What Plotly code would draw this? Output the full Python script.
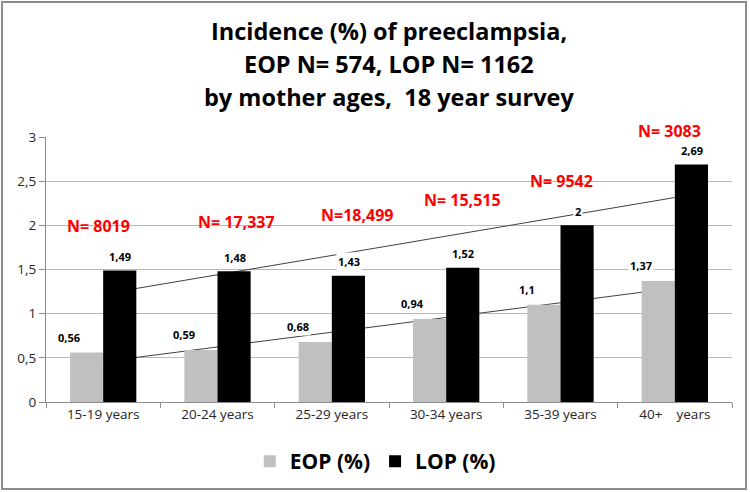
import numpy as np
import plotly.graph_objects as go

categories = ["15-19 years", "20-24 years", "25-29 years", "30-34 years", "35-39 years", "40+\u00a0\u00a0\u00a0\u00a0years"]
eop = [0.56, 0.59, 0.68, 0.94, 1.1, 1.37]
lop = [1.49, 1.48, 1.43, 1.52, 2.0, 2.69]
n_labels = ["N= 8019", "N= 17,337", "N=18,499", "N= 15,515", "N= 9542", "N= 3083"]
n_label_y = [1.99, 2.04, 2.12, 2.29, 2.50, 3.0]
n_label_xshift = [-5, 19, 25, 16, 1, -5]
n_label_yshift = [0, 0, 0, 0, 0, 6]
title_lines = ["Incidence (%) of preeclampsia,", "EOP N= 574, LOP N= 1162", "by mother ages,  18 year survey"]
title_line_y = [1.40, 1.277, 1.152]

idx = np.arange(len(categories))
eop_fit = np.polyval(np.polyfit(idx, eop, 1), idx)
lop_fit = np.polyval(np.polyfit(idx, lop, 1), idx)

FONT = "Open Sans"

def fmt(v):
    return ("%g" % v).replace(".", ",")

fig = go.Figure()
# trend lines on base axes (drawn beneath bars)
for fit in (eop_fit, lop_fit):
    fig.add_trace(go.Scatter(x=categories, y=fit, mode="lines", line=dict(color="#404040", width=1),
                             showlegend=False, hoverinfo="skip", xaxis="x", yaxis="y"))
# bars on overlay axes
fig.add_trace(go.Bar(x=categories, y=eop, name="EOP (%)", marker=dict(color="#c0c0c0", line=dict(width=0)),
                     xaxis="x2", yaxis="y2"))
fig.add_trace(go.Bar(x=categories, y=lop, name="LOP (%)", marker=dict(color="#000000", line=dict(width=0)),
                     xaxis="x2", yaxis="y2"))

# value labels (white boxes, as in the reference)
for cat, v in zip(categories, eop):
    fig.add_annotation(x=cat, y=v, xref="x", yref="y", text="<b>" + fmt(v) + "</b>", showarrow=False,
                       xshift=-34, yshift=15, bgcolor="white", borderpad=1,
                       font=dict(family=FONT, size=11, color="black"))
for cat, v in zip(categories, lop):
    fig.add_annotation(x=cat, y=v, xref="x", yref="y", text="<b>" + fmt(v) + "</b>", showarrow=False,
                       xshift=17, yshift=14, bgcolor="white", borderpad=1,
                       font=dict(family=FONT, size=11, color="black"))

for lab, yv, xs, ys, cat in zip(n_labels, n_label_y, n_label_xshift, n_label_yshift, categories):
    fig.add_annotation(x=cat, y=yv, xref="x", yref="y", text="<b>" + lab + "</b>", showarrow=False,
                       xshift=xs, yshift=ys, font=dict(family=FONT, size=16, color="#ff0000"))

for line, ty in zip(title_lines, title_line_y):
    fig.add_annotation(x=0.5, y=ty, xref="paper", yref="paper", text="<b>" + line + "</b>",
                       showarrow=False, xanchor="center", yanchor="middle",
                       font=dict(family=FONT, size=23.5, color="black"))

fig.update_layout(
    width=750, height=492,
    margin=dict(l=46, r=18, t=137, b=90, autoexpand=False),
    paper_bgcolor="white", plot_bgcolor="white",
    font=dict(family=FONT, size=14, color="#404040"),
    barmode="group", bargap=0.42, bargroupgap=0,
    xaxis=dict(type="category", range=[-0.5, 5.5], showline=True, linecolor="#8c8c8c", linewidth=1,
               ticks="outside", tickson="boundaries", ticklen=5, tickcolor="#8c8c8c",
               tickfont=dict(family=FONT, size=13.5, color="#262626"), showgrid=False),
    yaxis=dict(range=[0, 3], dtick=0.5, showline=True, linecolor="#8c8c8c", linewidth=1,
               ticks="outside", ticklen=6, tickcolor="#8c8c8c", gridcolor="#b8b8b8", gridwidth=1,
               tickfont=dict(family=FONT, size=13.5, color="#262626"), zeroline=False,
               tickformat=".1~f"),
    separators=",.",
    xaxis2=dict(type="category", range=[-0.5, 5.5], overlaying="x", visible=False),
    yaxis2=dict(range=[0, 3], overlaying="y", visible=False),
    legend=dict(orientation="h", x=0.48, xanchor="center", y=-0.225, yanchor="middle",
                font=dict(family=FONT, size=21, color="black", weight="bold"),
                itemwidth=30, tracegroupgap=0),
    showlegend=True,
)
fig.add_shape(type="rect", xref="paper", yref="paper", x0=-0.0641, x1=1.0204, y0=-0.328, y1=1.509,
              line=dict(color="#8c8c8c", width=2), fillcolor="rgba(0,0,0,0)", layer="below")

fig.write_html("out.html", config={"displayModeBar": False},
               post_script="document.body.style.margin='0';document.body.style.padding='0';")
